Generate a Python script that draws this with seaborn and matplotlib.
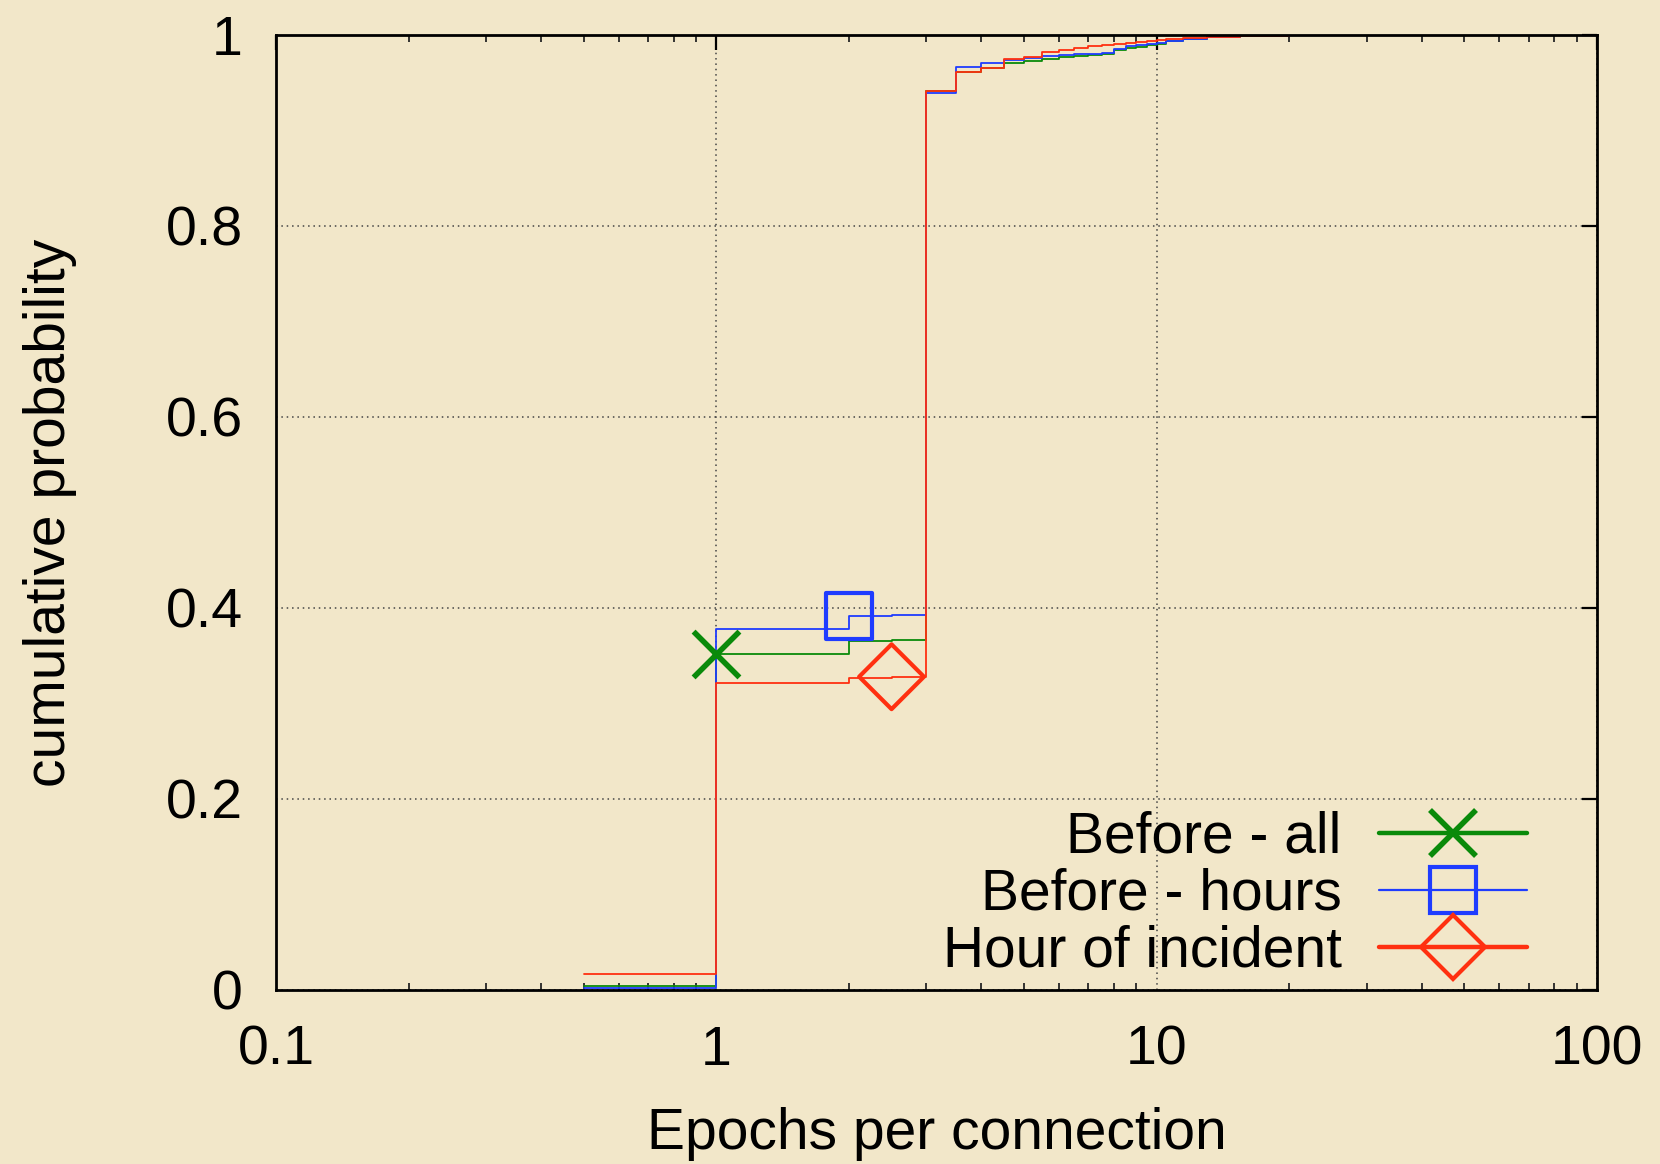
import matplotlib
matplotlib.use("Agg")
import matplotlib.pyplot as plt
from matplotlib.lines import Line2D
from matplotlib.ticker import LogLocator, FixedLocator, NullFormatter
import seaborn as sns
import pandas as pd

# ---- data ----
epochs = [0.5, 1, 2, 2.5, 3, 3.5, 4, 4.5, 5, 5.5, 6, 6.5, 7, 7.5, 8, 8.5,
          9, 9.5, 10, 10.5, 11.5, 13, 15.5, 20]
before_all = [0.004, 0.352, 0.365, 0.366, 0.941, 0.961, 0.965, 0.971, 0.973,
              0.975, 0.977, 0.978, 0.979, 0.980, 0.984, 0.986, 0.987, 0.989,
              0.991, 0.994, 0.996, 0.998, 0.999, 1.0]
before_hours = [0.002, 0.378, 0.392, 0.393, 0.939, 0.9665, 0.971, 0.974,
                0.9756, 0.978, 0.979, 0.980, 0.9805, 0.9815, 0.985, 0.988,
                0.989, 0.990, 0.992, 0.994, 0.996, 0.998, 0.999, 1.0]
hour_incident = [0.017, 0.321, 0.327, 0.328, 0.941, 0.961, 0.965, 0.975,
                 0.977, 0.9825, 0.984, 0.986, 0.9885, 0.9895, 0.991, 0.992,
                 0.993, 0.994, 0.995, 0.996, 0.997, 0.998, 0.999, 1.0]
series_names = ["Before - all", "Before - hours", "Hour of incident"]
marker_index = [1, 2, 3]
x_ticks = [0.1, 1, 10, 100]
x_labels = ["0.1", "1", "10", "100"]
y_ticks = [0, 0.2, 0.4, 0.6, 0.8, 1.0]
y_labels = ["0", "0.2", "0.4", "0.6", "0.8", "1"]

colors = ["#0a8a0a", "#1f3cff", "#ff3010"]
markers = ["x", "s", "D"]
leg_lw = [3.2, 1.6, 3.2]

BG = "#f2e7c9"

sns.set_theme(style="white")
plt.rcParams["font.family"] = ["Liberation Sans", "DejaVu Sans"]
plt.rcParams["text.color"] = "black"
plt.rcParams["axes.labelcolor"] = "black"

fig = plt.figure(figsize=(16.6, 11.64), dpi=100, facecolor=BG)
ax = fig.add_axes([0.1663, 0.1495, 0.7957, 0.8205])
ax.set_facecolor(BG)

all_series = [before_all, before_hours, hour_incident]
for name, vals, c, m, mi in zip(series_names, all_series, colors, markers, marker_index):
    df = pd.DataFrame({"x": epochs, "y": vals})
    sns.lineplot(data=df, x="x", y="y", ax=ax, color=c, lw=1.3,
                 drawstyle="steps-post", estimator=None, sort=False)
    pt = df.iloc[[mi]]
    if m == "x":
        sns.scatterplot(data=pt, x="x", y="y", ax=ax, marker="x", s=33**2,
                        color=c, linewidth=4, zorder=5)
    else:
        sns.scatterplot(data=pt, x="x", y="y", ax=ax, marker=m, s=33 ** 2,
                        facecolor="none", edgecolor=c, linewidth=3, zorder=5)

ax.set_xscale("log")
ax.set_xlim(0.1, 100)
ax.set_ylim(0, 1)
ax.xaxis.set_major_locator(FixedLocator(x_ticks))
ax.set_xticklabels(x_labels)
ax.xaxis.set_minor_locator(LogLocator(base=10, subs=range(2, 10)))
ax.xaxis.set_minor_formatter(NullFormatter())
ax.set_yticks(y_ticks)
ax.set_yticklabels(y_labels)

ax.tick_params(axis="both", which="major", direction="in", length=11, width=1.6,
               top=True, right=True, labelsize=40, colors="black")
ax.tick_params(axis="x", which="major", pad=25)
ax.tick_params(axis="y", which="major", pad=24)
ax.tick_params(axis="x", which="minor", direction="in", length=5, width=1.3,
               top=True, bottom=True)

ax.grid(True, which="major", axis="both", color="#444444", linestyle=(0, (1, 2.5)),
        linewidth=1.1)
for sp in ax.spines.values():
    sp.set_visible(True)
    sp.set_color("black")
    sp.set_linewidth(2)

ax.set_xlabel("Epochs per connection", fontsize=41, labelpad=22)
ax.set_ylabel("cumulative probability", fontsize=41, labelpad=64)

handles = [Line2D([], [], color=c, lw=lw, marker=m, markersize=33,
                  markerfacecolor="none", markeredgecolor=c,
                  markeredgewidth=4 if m == "x" else 3)
           for c, m, lw in zip(colors, markers, leg_lw)]
leg = ax.legend(handles, series_names, loc="lower right", markerfirst=False,
                fontsize=41, frameon=False, handlelength=2.6, handletextpad=0.65,
                labelspacing=0.05, borderaxespad=0.0,
                bbox_to_anchor=(0.964, -0.012))

fig.savefig("out.png", dpi=100, facecolor=BG)
